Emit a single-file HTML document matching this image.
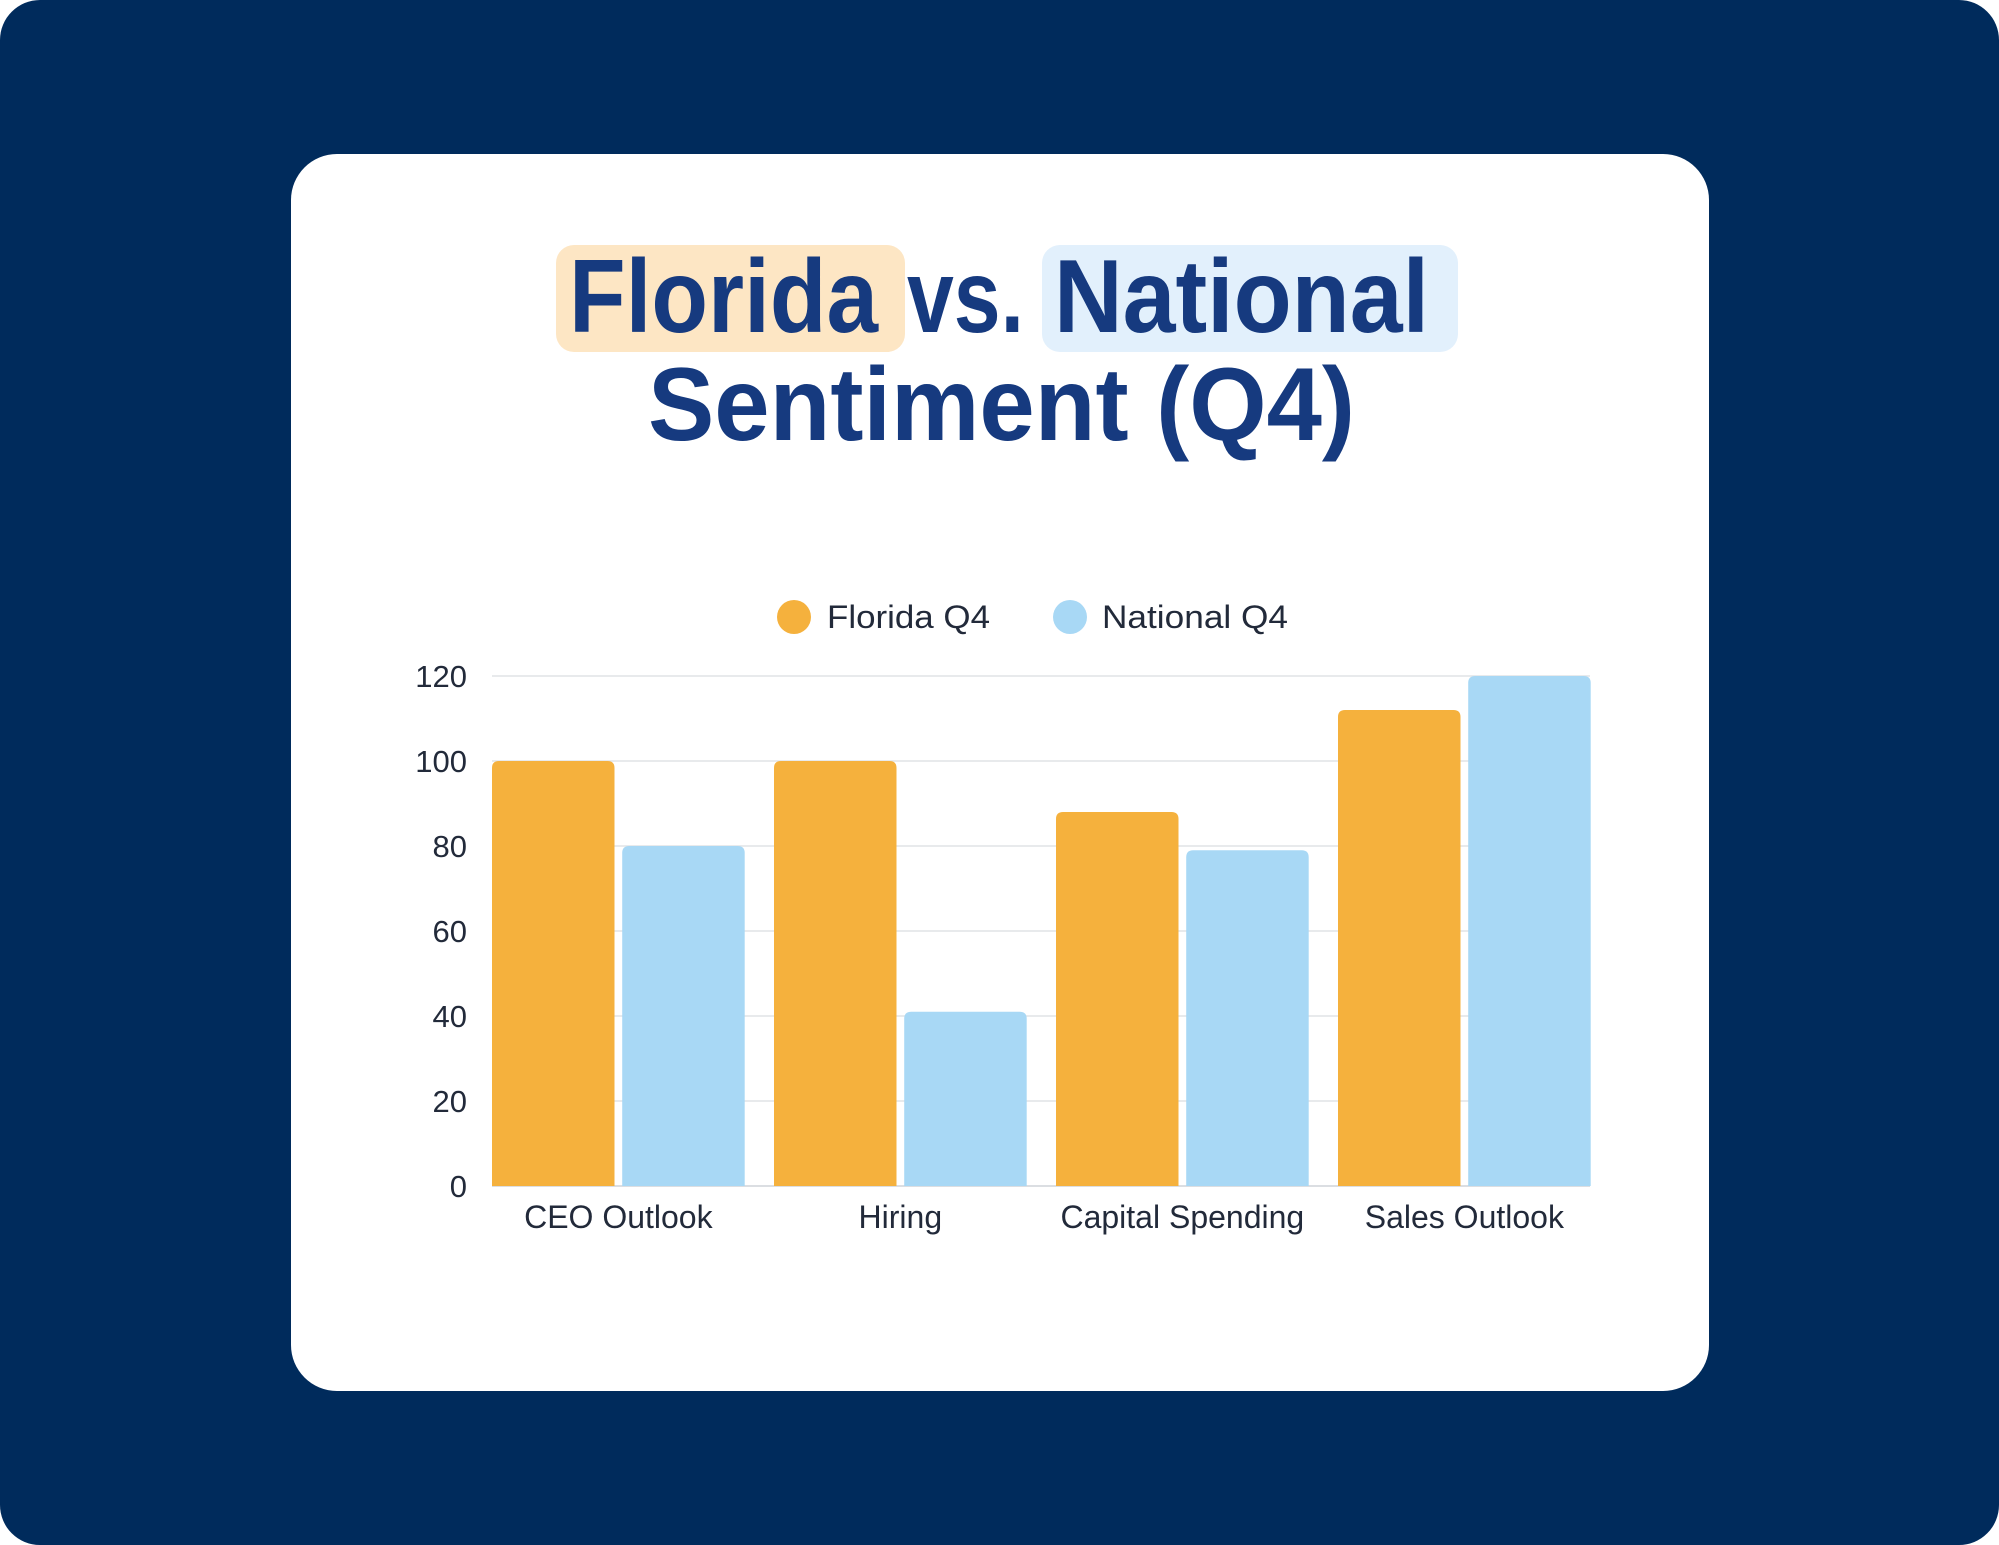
<!DOCTYPE html>
<html><head><meta charset="utf-8"><style>
html,body{margin:0;padding:0;background:#fff;}
svg{display:block;}
</style></head><body>
<svg id="chart" width="1999" height="1545" viewBox="0 0 1999 1545" xmlns="http://www.w3.org/2000/svg">
<rect x="0" y="0" width="1999" height="1545" rx="40" fill="#002b5c"/>
<rect x="291" y="154" width="1418" height="1237" rx="46" fill="#ffffff"/>
<rect x="556" y="245" width="349" height="107" rx="18" fill="#fde6c4"/>
<rect x="1042" y="245" width="416" height="107" rx="18" fill="#e2f0fc"/>
<g font-family="Liberation Sans, sans-serif" font-weight="bold" fill="#163a7f" font-size="104">
<text x="569" y="332" textLength="309" lengthAdjust="spacingAndGlyphs">Florida</text>
<text x="907" y="332" textLength="117" lengthAdjust="spacingAndGlyphs">vs.</text>
<text x="1054" y="332" textLength="375" lengthAdjust="spacingAndGlyphs">National</text>
<text x="648" y="440" textLength="707" lengthAdjust="spacingAndGlyphs">Sentiment (Q4)</text>
</g>
<g font-family="Liberation Sans, sans-serif" font-size="32" fill="#222a3a">
<circle cx="794" cy="617" r="17" fill="#f5b13d"/>
<text x="827" y="628" textLength="163" lengthAdjust="spacingAndGlyphs">Florida Q4</text>
<circle cx="1070" cy="617" r="17" fill="#a8d8f5"/>
<text x="1102" y="628" textLength="186" lengthAdjust="spacingAndGlyphs">National Q4</text>
</g>
<g id="grid"></g>
<g id="bars"></g>
<g id="labels"></g>
</svg>
<script>
const categories = ["CEO Outlook", "Hiring", "Capital Spending", "Sales Outlook"];
const floridaValues = [100, 100, 88, 112];
const nationalValues = [80, 41, 79, 120];
const yTicks = [0, 20, 40, 60, 80, 100, 120];

const NS = "http://www.w3.org/2000/svg";
const plotLeft = 492, plotRight = 1590, y0 = 1186, yTop = 676, yMax = 120;
const groupW = 282, barW = 122.5, barGap = 7.7;
function yScale(v){ return y0 - (v / yMax) * (y0 - yTop); }
function xGroup(i){ return plotLeft + i * groupW; }
function mk(tag, attrs){ const e = document.createElementNS(NS, tag); for (const k in attrs) e.setAttribute(k, attrs[k]); return e; }
function barPath(x, y, w, h, r){
  r = Math.min(r, h);
  return `M${x},${y+h} L${x},${y+r} Q${x},${y} ${x+r},${y} L${x+w-r},${y} Q${x+w},${y} ${x+w},${y+r} L${x+w},${y+h} Z`;
}
const grid = document.getElementById('grid');
yTicks.forEach(t => {
  const y = yScale(t);
  const ln = mk('line', {x1: plotLeft, x2: plotRight, y1: y, y2: y, stroke: t === 0 ? '#cfd3d8' : '#e0e3e6', 'stroke-width': 1.5});
  
  
  grid.appendChild(ln);
  const tx = mk('text', {x: 467, y: y + 11, 'text-anchor': 'end', 'font-family': 'Liberation Sans, sans-serif', 'font-size': 31, fill: '#222a3a'});
  tx.textContent = t;
  
  
  grid.appendChild(tx);
});
const bars = document.getElementById('bars');
const labels = document.getElementById('labels');
categories.forEach((c, i) => {
  const gx = xGroup(i);
  const fy = yScale(floridaValues[i]);
  const fb = mk('path', {d: barPath(gx, fy, barW, y0 - fy, 7), fill: '#f5b13d'});
  
  
  bars.appendChild(fb);
  const ny = yScale(nationalValues[i]);
  const nb = mk('path', {d: barPath(gx + barW + barGap, ny, barW, y0 - ny, 7), fill: '#a8d8f5'});
  
  
  bars.appendChild(nb);
  const lt = mk('text', {x: gx + barW + barGap / 2, y: 1228, 'text-anchor': 'middle', 'font-family': 'Liberation Sans, sans-serif', 'font-size': 32, fill: '#222a3a'});
  lt.textContent = c;
  
  
  labels.appendChild(lt);
});
</script>
</body></html>
